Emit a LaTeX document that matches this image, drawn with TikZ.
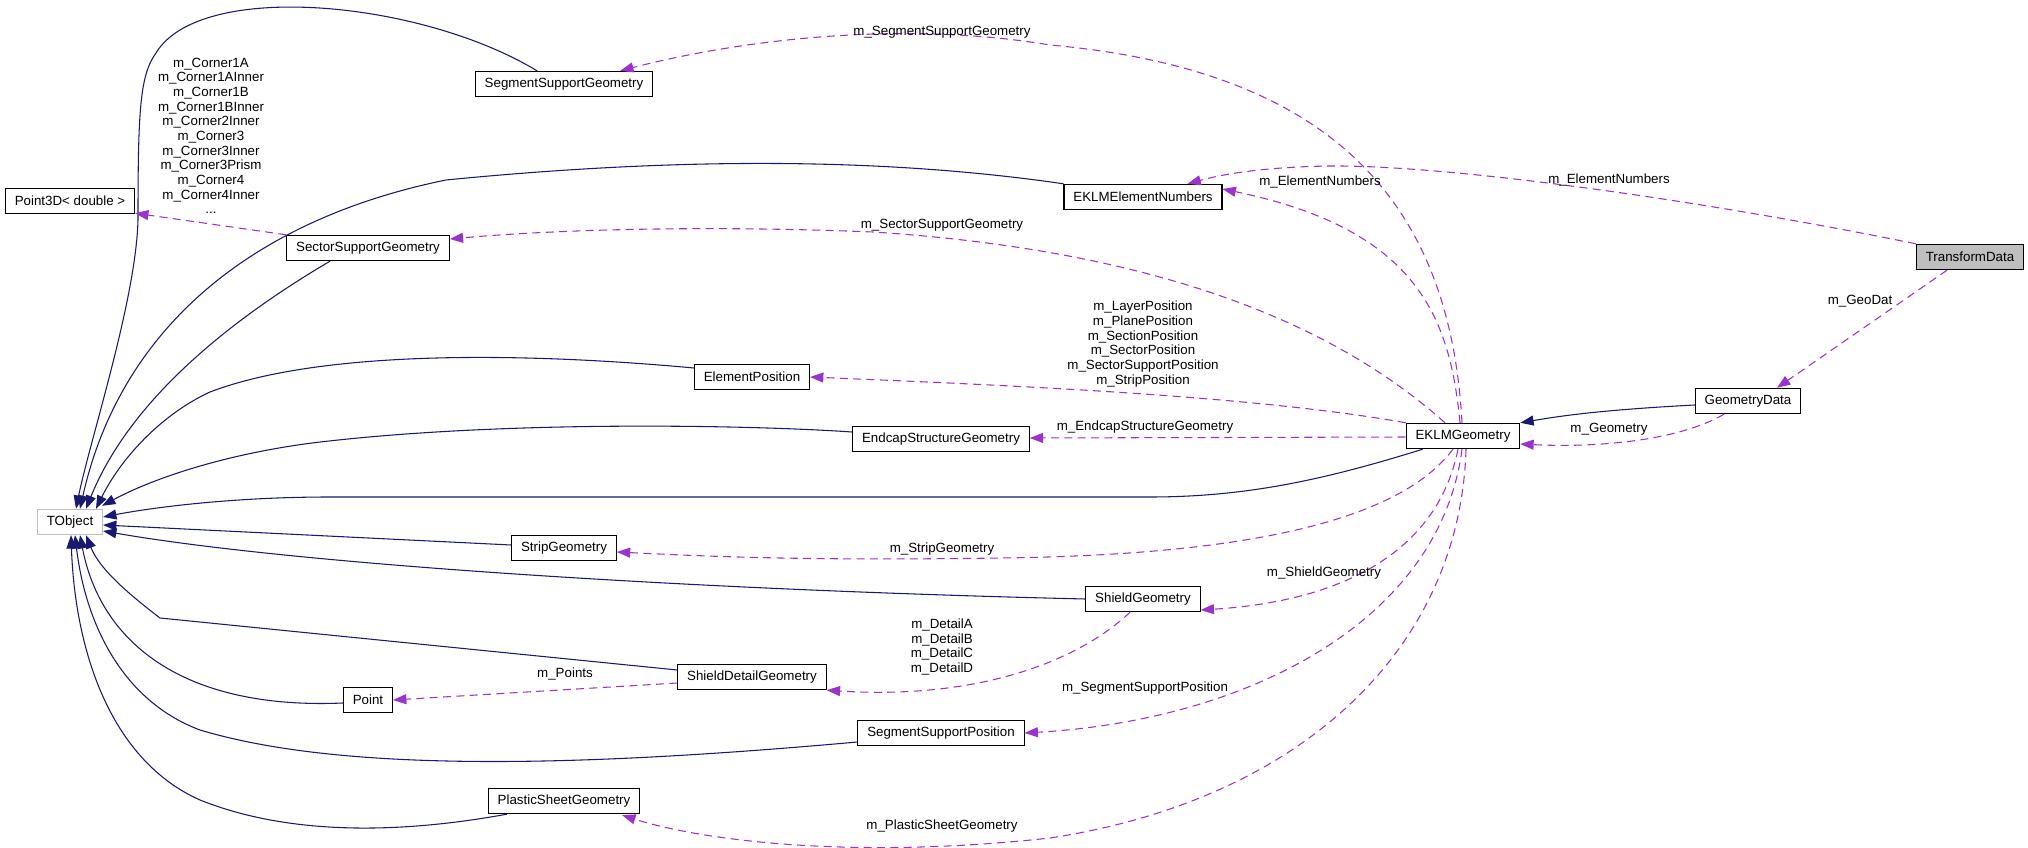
\documentclass[tikz,border=0pt]{standalone}
\usepackage{fontspec}
\setmainfont{Liberation Sans}
\usetikzlibrary{arrows.meta,calc}
\definecolor{edgeblue}{HTML}{191970}
\definecolor{edgepurple}{HTML}{9A32CD}
\definecolor{boxgray}{HTML}{BFBFBF}

\begin{document}
\begin{tikzpicture}[x=0.75pt,y=-0.75pt,
    font=\fontsize{10}{11}\selectfont,
    cls/.style={draw=black, fill=white, line width=0.8pt, inner xsep=7pt, inner ysep=0pt, minimum height=19pt},
    inh/.style={draw=edgeblue, line width=0.8pt, -{Triangle[length=10pt,width=7.5pt]}},
    use/.style={draw=edgepurple, line width=0.8pt, dash pattern=on 6pt off 4pt, -{Triangle[length=10pt,width=7.5pt]}},
    lbl/.style={inner sep=0pt, align=center}]
\useasboundingbox (0,0) rectangle (2028,848);

    % classes
    \node[cls, draw=boxgray] (tobj) at (70,522) {TObject};
    \node[cls] (p3d) at (70,201) {Point3D< double >};
    \node[cls] (sectsg) at (368,248) {SectorSupportGeometry};
    \node[cls] (pnt) at (368,700) {Point};
    \node[cls] (segsg) at (564,84) {SegmentSupportGeometry};
    \node[cls] (stripg) at (564,548) {StripGeometry};
    \node[cls] (plastg) at (564,801) {PlasticSheetGeometry};
    \node[cls] (elpos) at (752,377) {ElementPosition};
    \node[cls] (shdet) at (752,677) {ShieldDetailGeometry};
    \node[cls] (endcap) at (941,439) {EndcapStructureGeometry};
    \node[cls] (segsp) at (941,733) {SegmentSupportPosition};
    \node[cls] (elnum) at (1143,197) {EKLMElementNumbers};
    \node[cls] (shield) at (1143,599) {ShieldGeometry};
    \node[cls] (eklm) at (1463,436) {EKLMGeometry};
    \node[cls] (geodata) at (1748,401) {GeometryData};
    \node[cls, fill=boxgray] (trdata) at (1970,257) {TransformData};

    % inheritance
    \draw[inh] ($(segsg.north)+(-27,0)$) .. controls (420,0) and (200,-20) .. (156,53)
        .. controls (140,75) and (138,110) .. (138,220)
        .. controls (136,300) and (90,440) .. ($(tobj.north)+(6,0)$);
    \draw[inh] (elnum.north west) .. controls (900,160) and (700,155) .. (446,180)
        .. controls (250,220) and (120,330) .. ($(tobj.north)+(10,0)$);
    \draw[inh] ($(sectsg.south)+(-38,0)$) .. controls (230,320) and (130,400) .. ($(tobj.north)+(16,0)$);
    \draw[inh] ($(elpos.west)+(0,-9)$) .. controls (520,352) and (320,350) .. (210,392)
        .. controls (160,415) and (120,460) .. ($(tobj.north)+(26,0)$);
    \draw[inh] ($(endcap.west)+(0,-7)$) .. controls (750,425) and (500,420) .. (312,443)
        .. controls (220,455) and (150,480) .. ($(tobj.north east)+(-1,-3)$);
    \draw[inh] ($(eklm.south west)+(17,0)$) .. controls (1330,478) and (1250,497) .. (1150,497)
        -- (330,497) .. controls (230,497) and (150,508) .. ($(tobj.east)+(0,-5)$);
    \draw[inh] ($(stripg.west)+(0,-3)$) -- ($(tobj.east)+(0,3)$);
    \draw[inh] (shield.west) .. controls (700,590) and (300,565) .. ($(tobj.east)+(0,9)$);
    \draw[inh] ($(shdet.west)+(0,-7)$) -- (160,618) .. controls (130,595) and (100,570) .. ($(tobj.south)+(16,0)$);
    \draw[inh] ($(pnt.west)+(0,3)$) .. controls (180,710) and (100,640) .. ($(tobj.south)+(10,0)$);
    \draw[inh] ($(segsp.west)+(0,9)$) .. controls (600,765) and (350,775) .. (200,730)
        .. controls (120,700) and (85,620) .. ($(tobj.south)+(5,0)$);
    \draw[inh] ($(plastg.south west)+(19,0)$) .. controls (420,830) and (300,840) .. (200,800)
        .. controls (110,760) and (75,650) .. ($(tobj.south)+(1,0)$);
    \draw[inh] ($(geodata.west)+(0,4)$) .. controls (1600,410) and (1560,416) .. (eklm.north east);

    % members
    \draw[use] ($(eklm.north)+(-1,0)$) .. controls (1450,200) and (1330,70) .. (1050,45)
        .. controls (900,20) and (740,40) .. ($(segsg.north east)+(-33,0)$);
    \draw[use] (trdata.north west) .. controls (1700,200) and (1450,165) .. (1330,166)
        .. controls (1260,167) and (1220,175) .. ($(elnum.north east)+(-35,0)$);
    \draw[use] ($(eklm.north)+(-3,0)$) .. controls (1450,320) and (1420,230) .. ($(elnum.east)+(0,-8)$);
    \draw[use] ($(eklm.north)+(-18,0)$) .. controls (1330,320) and (1150,250) .. (873,232)
        .. controls (700,225) and (550,230) .. ($(sectsg.east)+(0,-9)$);
    \draw[use] (eklm.north west) .. controls (1250,395) and (1000,385) .. (elpos.east);
    \draw[use] ($(eklm.west)+(0,1)$) -- ($(endcap.east)+(0,-1)$);
    \draw[use] ($(eklm.south)+(-10,0)$) .. controls (1400,520) and (1250,555) .. (1000,558)
        .. controls (800,561) and (700,556) .. ($(stripg.east)+(0,4)$);
    \draw[use] ($(eklm.south)+(-5,0)$) .. controls (1440,540) and (1360,600) .. ($(shield.east)+(0,11)$);
    \draw[use] ($(eklm.south)+(-1,0)$) .. controls (1440,620) and (1250,720) .. (segsp.east);
    \draw[use] ($(eklm.south)+(3,0)$) .. controls (1460,650) and (1300,800) .. (1050,838)
        .. controls (850,860) and (700,840) .. ($(plastg.south east)+(-18,1)$);
    \draw[use] ($(shield.south)+(-13,0)$) .. controls (1080,660) and (980,700) .. (shdet.south east);
    \draw[use] ($(shdet.west)+(0,6)$) -- (pnt.east);
    \draw[use] (sectsg.north west) -- ($(p3d.south east)+(0,-1)$);
    \draw[use] ($(trdata.south)+(-23,0)$) -- ($(geodata.north)+(29,0)$);
    \draw[use] ($(geodata.south)+(-24,0)$) .. controls (1680,440) and (1600,448) .. ($(eklm.east)+(0,8)$);

    % labels
    \node[lbl] (lsegsg) at (942,32) {m\_SegmentSupportGeometry};
    \node[lbl] (lelnuma) at (1609,180) {m\_ElementNumbers};
    \node[lbl] (lelnumb) at (1320,182) {m\_ElementNumbers};
    \node[lbl] (lsectsg) at (942,225) {m\_SectorSupportGeometry};
    \node[lbl] (lelpos) at (1143,344) {m\_LayerPosition\\m\_PlanePosition\\m\_SectionPosition\\m\_SectorPosition\\m\_SectorSupportPosition\\m\_StripPosition};
    \node[lbl] (lendcap) at (1145,427) {m\_EndcapStructureGeometry};
    \node[lbl] (lgeom) at (1609,429) {m\_Geometry};
    \node[lbl] (lgeodat) at (1860,301) {m\_GeoDat};
    \node[lbl] (lstrip) at (942,549) {m\_StripGeometry};
    \node[lbl] (lshield) at (1324,573) {m\_ShieldGeometry};
    \node[lbl] (ldetail) at (942,647) {m\_DetailA\\m\_DetailB\\m\_DetailC\\m\_DetailD};
    \node[lbl] (lpoints) at (565,674) {m\_Points};
    \node[lbl] (lsegsp) at (1145,688) {m\_SegmentSupportPosition};
    \node[lbl] (lplast) at (942,826) {m\_PlasticSheetGeometry};
    \node[lbl] (lcorner) at (211,136) {m\_Corner1A\\m\_Corner1AInner\\m\_Corner1B\\m\_Corner1BInner\\m\_Corner2Inner\\m\_Corner3\\m\_Corner3Inner\\m\_Corner3Prism\\m\_Corner4\\m\_Corner4Inner\\...};
\end{tikzpicture}
\end{document}
